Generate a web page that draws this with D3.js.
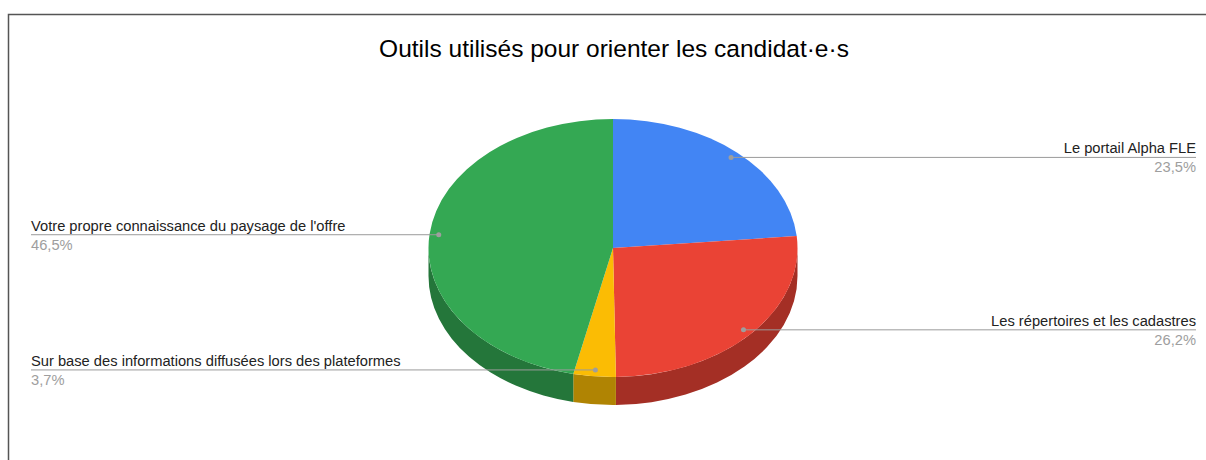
<!DOCTYPE html>
<html lang="fr">
<head>
    <meta charset="UTF-8">
    <title>Outils utilisés pour orienter les candidat·e·s</title>
    <script src="https://d3js.org/d3.v7.min.js"></script>
    <style>
        body { margin: 0; background: #fff; }
        svg { display: block; font-family: 'Liberation Sans', Arial, sans-serif; }
        .title { font-size: 24.5px; fill: #000; }
        .label { font-size: 14.7px; fill: #222; }
        .pct { font-size: 14.7px; fill: #9e9e9e; }
        .leader { stroke: #9a9a9a; stroke-width: 1; fill: none; }
        .dot { fill: #9e9e9e; }
    </style>
</head>
<body>
<script>
    // chart data
    var categories = [
        "Le portail Alpha FLE",
        "Les répertoires et les cadastres",
        "Sur base des informations diffusées lors des plateformes",
        "Votre propre connaissance du paysage de l'offre"
    ];
    var percents = [23.5, 26.2, 3.7, 46.5];
    var topColors = ["#4285f4", "#ea4335", "#fbbc04", "#34a853"];
    var sideColors = ["#2e5dab", "#a42f25", "#b08403", "#24763a"];

    var width = 1206, height = 460;
    var cx = 613, cy = 248, rx = 184.5, ry = 129, depth = 28;

    var svg = d3.select("body").append("svg")
        .attr("width", width)
        .attr("height", height);

    // frame
    svg.append("path")
        .attr("d", "M8.5," + (height + 5) + "V14.5H" + (width + 5))
        .attr("fill", "none")
        .attr("stroke", "#555")
        .attr("stroke-width", 1.5);

    svg.append("text")
        .attr("class", "title")
        .attr("x", 614)
        .attr("y", 57)
        .attr("text-anchor", "middle")
        .text("Outils utilisés pour orienter les candidat·e·s");

    var pie = d3.pie().sort(null).value(function(d){ return d; })
        .startAngle(0).endAngle(2 * Math.PI);
    var slices = pie(percents);

    // projected point on the ellipse, angle measured clockwise from 12 o'clock
    function pt(t, f, dy) {
        f = f === undefined ? 1 : f;
        dy = dy || 0;
        return [cx + f * rx * Math.sin(t), cy - f * ry * Math.cos(t) + dy];
    }

    // side walls (only the front half is visible)
    slices.forEach(function(s, i){
        var s0 = Math.max(s.startAngle, Math.PI / 2);
        var s1 = Math.min(s.endAngle, 3 * Math.PI / 2);
        if (s1 <= s0) return;
        var a = pt(s0), b = pt(s1), c = pt(s1, 1, depth), d = pt(s0, 1, depth);
        var path = "M" + a + "A" + rx + "," + ry + " 0 0 1 " + b +
            "L" + c + "A" + rx + "," + ry + " 0 0 0 " + d + "Z";
        svg.append("path")
            .attr("d", path)
            .attr("fill", sideColors[i]);
    });

    // top faces
    svg.selectAll(".slice")
        .data(slices)
        .enter()
        .append("path")
        .attr("class", "slice")
        .attr("fill", function(d, i){ return topColors[i]; })
        .attr("d", function(d){
            var a = pt(d.startAngle), b = pt(d.endAngle);
            var large = (d.endAngle - d.startAngle) > Math.PI ? 1 : 0;
            return "M" + cx + "," + cy + "L" + a +
                "A" + rx + "," + ry + " 0 " + large + " 1 " + b + "Z";
        });

    // leader lines and labels
    var fmt = function(v){ return d3.format(".1f")(v).replace(".", ",") + "%"; };
    var leftX = 31, rightX = 1196;

    slices.forEach(function(s, i){
        var mid = (s.startAngle + s.endAngle) / 2;
        var p = pt(mid, 0.95);
        var right = Math.sin(mid) > 0;
        var endX = right ? rightX : leftX;
        var anchor = right ? "end" : "start";

        svg.append("line")
            .attr("class", "leader")
            .attr("x1", p[0]).attr("y1", p[1])
            .attr("x2", endX).attr("y2", p[1]);

        svg.append("circle")
            .attr("class", "dot")
            .attr("cx", p[0]).attr("cy", p[1])
            .attr("r", 2.5);

        svg.append("text")
            .attr("class", "label")
            .attr("x", endX)
            .attr("y", p[1] - 4)
            .attr("text-anchor", anchor)
            .text(categories[i]);

        svg.append("text")
            .attr("class", "pct")
            .attr("x", endX)
            .attr("y", p[1] + 15)
            .attr("text-anchor", anchor)
            .text(fmt(s.data));
    });
</script>
</body>
</html>
